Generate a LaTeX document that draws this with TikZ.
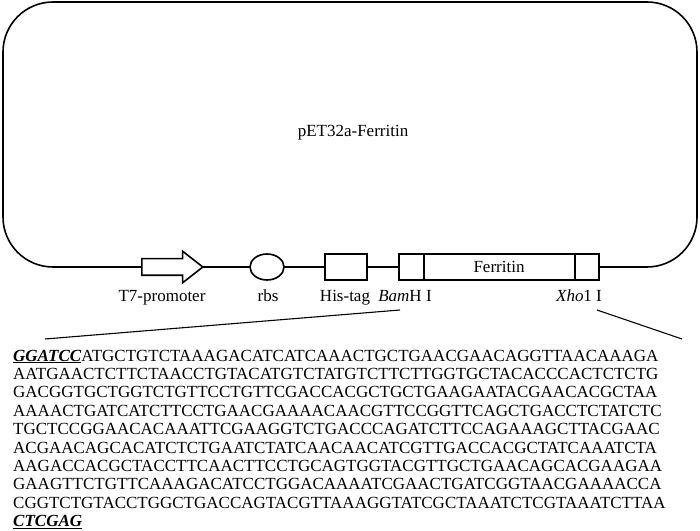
\documentclass[tikz,border=0pt]{standalone}
\usepackage{fontspec}
\setmainfont{Liberation Serif}
\usetikzlibrary{positioning, shapes.geometric, shapes.arrows}
\tikzset{
  every node/.style={font=\fontsize{17}{18.4}\selectfont},
  part/.style={draw=black, line width=1.6pt, fill=white, inner sep=0pt},
  partlabel/.style={anchor=base, inner sep=0pt},
  seqline/.style={anchor=base west, inner sep=0pt},
  cut/.style={line width=1.1pt, black}
}
\newcommand{\site}[1]{\underline{\textbf{\textit{#1}}}}

\begin{document}
\begin{tikzpicture}[x=1pt,y=1pt]
\useasboundingbox (0,0) rectangle (700,530);

% Plasmid outline
\draw[line width=1.6pt, rounded corners=50pt] (3,263) rectangle (697,528);
\node (plasmid) at (353,397) {pET32a-Ferritin};

% Elements on the backbone
\node[part, single arrow, minimum height=61pt, minimum width=30pt,
      single arrow head extend=7.5pt, single arrow head indent=0pt,
      single arrow tip angle=76, inner ysep=7.5pt] (t7) at (167,263) {};
\node[part, ellipse, minimum width=34pt, minimum height=26pt] (rbs) at (267,263) {};
\node[part, rectangle, minimum width=42pt, minimum height=26pt] (his) at (346,263) {};
\node[part, rectangle, minimum width=200pt, minimum height=26pt] (fer) at (499,263) {Ferritin};
\draw[line width=1.6pt] ([xshift=26pt]fer.north west) -- ([xshift=26pt]fer.south west);
\draw[line width=1.6pt] ([xshift=-25pt]fer.north east) -- ([xshift=-25pt]fer.south east);

% Labels
\node[partlabel] (t7lab) at (162,228.5) {T7-promoter};
\node[partlabel] (rbslab) at (268,228.5) {rbs};
\node[partlabel] (hislab) at (345,228.5) {His-tag};
\node[partlabel] (bamlab) at (405,228.5) {\textit{Bam}H I};
\node[partlabel] (xholab) at (579,228.5) {\textit{Xho}1 I};

% Zoom-in lines
\coordinate (cutL) at (400,220);
\coordinate (cutR) at (597,220);
\coordinate (seqL) at (45,191);
\coordinate (seqR) at (682,191);
\draw[cut] (cutL) -- (seqL);
\draw[cut] (cutR) -- (seqR);

% Insert sequence
\foreach \seq [count=\i] in {
  {\site{GGATCC}ATGCTGTCTAAAGACATCATCAAACTGCTGAACGAACAGGTTAACAAAGA},
  AATGAACTCTTCTAACCTGTACATGTCTATGTCTTCTTGGTGCTACACCCACTCTCTG,
  GACGGTGCTGGTCTGTTCCTGTTCGACCACGCTGCTGAAGAATACGAACACGCTAA,
  AAAACTGATCATCTTCCTGAACGAAAACAACGTTCCGGTTCAGCTGACCTCTATCTC,
  TGCTCCGGAACACAAATTCGAAGGTCTGACCCAGATCTTCCAGAAAGCTTACGAAC,
  ACGAACAGCACATCTCTGAATCTATCAACAACATCGTTGACCACGCTATCAAATCTA,
  AAGACCACGCTACCTTCAACTTCCTGCAGTGGTACGTTGCTGAACAGCACGAAGAA,
  GAAGTTCTGTTCAAAGACATCCTGGACAAAATCGAACTGATCGGTAACGAAAACCA,
  CGGTCTGTACCTGGCTGACCAGTACGTTAAAGGTATCGCTAAATCTCGTAAATCTTAA,
  {\site{CTCGAG}}}
  \node[seqline] (seq\i) at (13,{169-18.4*(\i-1)}) {\seq};

\end{tikzpicture}
\end{document}
